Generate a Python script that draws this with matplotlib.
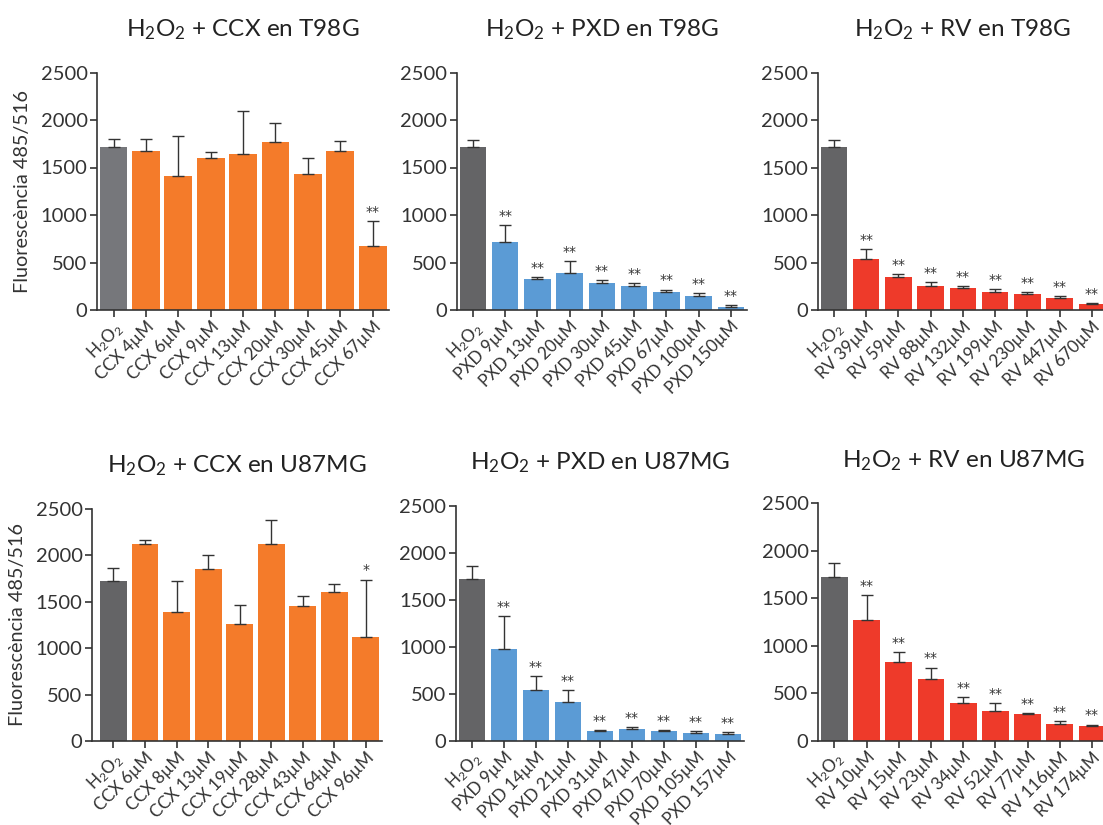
import matplotlib
matplotlib.use("Agg")
import matplotlib.pyplot as plt

plt.rcParams['font.family'] = ['Lato', 'DejaVu Sans']
plt.rcParams['mathtext.fontset'] = 'custom'
plt.rcParams['mathtext.rm'] = 'Lato'
plt.rcParams['mathtext.it'] = 'Lato'
plt.rcParams['mathtext.default'] = 'regular'

H2O2 = "H$_2$O$_2$"

# --- data ---------------------------------------------------------------
ccx_t98g_labels = [H2O2, "CCX 4µM", "CCX 6µM", "CCX 9µM", "CCX 13µM", "CCX 20µM",
                   "CCX 30µM", "CCX 45µM", "CCX 67µM"]
ccx_t98g_mean = [1720, 1670, 1410, 1605, 1640, 1765, 1430, 1670, 675]
ccx_t98g_err = [75, 130, 420, 55, 460, 200, 170, 110, 260]
ccx_t98g_sig = ["", "", "", "", "", "", "", "", "**"]

pxd_t98g_labels = [H2O2, "PXD 9µM", "PXD 13µM", "PXD 20µM", "PXD 30µM", "PXD 45µM",
                   "PXD 67µM", "PXD 100µM", "PXD 150µM"]
pxd_t98g_mean = [1715, 715, 330, 390, 285, 255, 190, 150, 35]
pxd_t98g_err = [75, 175, 18, 125, 30, 28, 25, 25, 15]
pxd_t98g_sig = [""] + ["**"] * 8

rv_t98g_labels = [H2O2, "RV 39µM", "RV 59µM", "RV 88µM", "RV 132µM", "RV 199µM",
                  "RV 230µM", "RV 447µM", "RV 670µM"]
rv_t98g_mean = [1715, 535, 345, 250, 230, 190, 170, 125, 65]
rv_t98g_err = [75, 105, 30, 45, 25, 30, 20, 18, 8]
rv_t98g_sig = [""] + ["**"] * 8

ccx_u87_labels = [H2O2, "CCX 6µM", "CCX 8µM", "CCX 13µM", "CCX 19µM", "CCX 28µM",
                  "CCX 43µM", "CCX 64µM", "CCX 96µM"]
ccx_u87_mean = [1720, 2120, 1390, 1855, 1260, 2120, 1455, 1605, 1120]
ccx_u87_err = [145, 50, 335, 150, 205, 265, 105, 90, 620]
ccx_u87_sig = ["", "", "", "", "", "", "", "", "*"]

pxd_u87_labels = [H2O2, "PXD 9µM", "PXD 14µM", "PXD 21µM", "PXD 31µM", "PXD 47µM",
                  "PXD 70µM", "PXD 105µM", "PXD 157µM"]
pxd_u87_mean = [1715, 975, 540, 412, 103, 125, 103, 82, 72]
pxd_u87_err = [145, 355, 145, 130, 12, 20, 10, 17, 17]
pxd_u87_sig = [""] + ["**"] * 8

rv_u87_labels = [H2O2, "RV 10µM", "RV 15µM", "RV 23µM", "RV 34µM", "RV 52µM",
                 "RV 77µM", "RV 116µM", "RV 174µM"]
rv_u87_mean = [1720, 1270, 830, 650, 400, 313, 281, 176, 155]
rv_u87_err = [150, 265, 100, 120, 55, 80, 10, 27, 15]
rv_u87_sig = [""] + ["**"] * 8

titles = [H2O2 + " + CCX en T98G", H2O2 + " + PXD en T98G", H2O2 + " + RV en T98G",
          H2O2 + " + CCX en U87MG", H2O2 + " + PXD en U87MG", H2O2 + " + RV en U87MG"]
y_ticks = [0, 500, 1000, 1500, 2000, 2500]
y_label = "Fluorescència 485/516"

# --- styling --------------------------------------------------------------
ORANGE = "#f47b2a"
BLUE = "#5b9bd5"
RED = "#ee3a2a"
GRAY = "#646466"
GRAY_LIGHT = "#76777b"
INK = "#333333"

W, H = 1103, 825
fig = plt.figure(figsize=(W / 100, H / 100), dpi=100)

# (left px, top px, bottom px, xlim left, pitch px, bar width, first-bar colour, colour)
panels = [
    (ccx_t98g_labels, ccx_t98g_mean, ccx_t98g_err, ccx_t98g_sig,
     (97.3, 72.5, 310, -0.5, 32.4, 0.86, GRAY_LIGHT, ORANGE)),
    (pxd_t98g_labels, pxd_t98g_mean, pxd_t98g_err, pxd_t98g_sig,
     (456.7, 72.5, 310, -0.5, 32.25, 0.82, GRAY, BLUE)),
    (rv_t98g_labels, rv_t98g_mean, rv_t98g_err, rv_t98g_sig,
     (817.7, 73, 310, -0.5, 32.25, 0.82, GRAY, RED)),
    (ccx_u87_labels, ccx_u87_mean, ccx_u87_err, ccx_u87_sig,
     (92.3, 509, 741, -0.67, 31.55, 0.855, GRAY, ORANGE)),
    (pxd_u87_labels, pxd_u87_mean, pxd_u87_err, pxd_u87_sig,
     (456.0, 505.7, 740.7, -0.5, 32.0, 0.83, GRAY, BLUE)),
    (rv_u87_labels, rv_u87_mean, rv_u87_err, rv_u87_sig,
     (818.3, 503.3, 740.7, -0.5, 32.2, 0.83, GRAY, RED)),
]

for i, (labels, mean, err, sig, lay) in enumerate(panels):
    left, top, bottom, x0, pitch, bw, c0, c = lay
    n = len(mean)
    x1 = n - 1 + 0.5
    width_px = (x1 - x0) * pitch
    ax = fig.add_axes([left / W, 1 - bottom / H, width_px / W, (bottom - top) / H])
    xs = list(range(n))
    colors = [c0] + [c] * (n - 1)
    ax.bar(xs, mean, width=bw, color=colors, zorder=2)
    ax.errorbar(xs, mean, yerr=[[0] * n, err], fmt="none", ecolor=INK,
                elinewidth=1.0, capsize=4.2, capthick=1.0, zorder=3)
    for x, m, e, s in zip(xs, mean, err, sig):
        if s:
            ax.annotate(s, (x, m + e), xytext=(0, 1.5), textcoords="offset points",
                        ha="center", va="bottom", fontsize=10, color=INK,
                        family="DejaVu Sans")
    ax.set_xlim(x0, x1)
    ax.set_ylim(0, 2500)
    ax.set_yticks(y_ticks)
    ax.set_yticklabels([str(t) for t in y_ticks], fontsize=14.5, color=INK)
    ax.set_xticks(xs)
    ax.set_xticklabels(labels, rotation=45, ha="right", va="top",
                       rotation_mode="anchor", fontsize=12.3, color=INK)
    for sp in ("top", "right"):
        ax.spines[sp].set_visible(False)
    for sp in ("left", "bottom"):
        ax.spines[sp].set_color(INK)
        ax.spines[sp].set_linewidth(1.2)
    ax.tick_params(axis="both", direction="out", length=5, width=1.2, color=INK, pad=2)
    ax.tick_params(axis="x", pad=1)
    ax.set_title(titles[i], fontsize=17.5, color="#222222", pad=26)
    if i % 3 == 0:
        ax.set_ylabel(y_label, fontsize=14.3, color=INK, labelpad=7)

fig.savefig("out.png", dpi=100)
